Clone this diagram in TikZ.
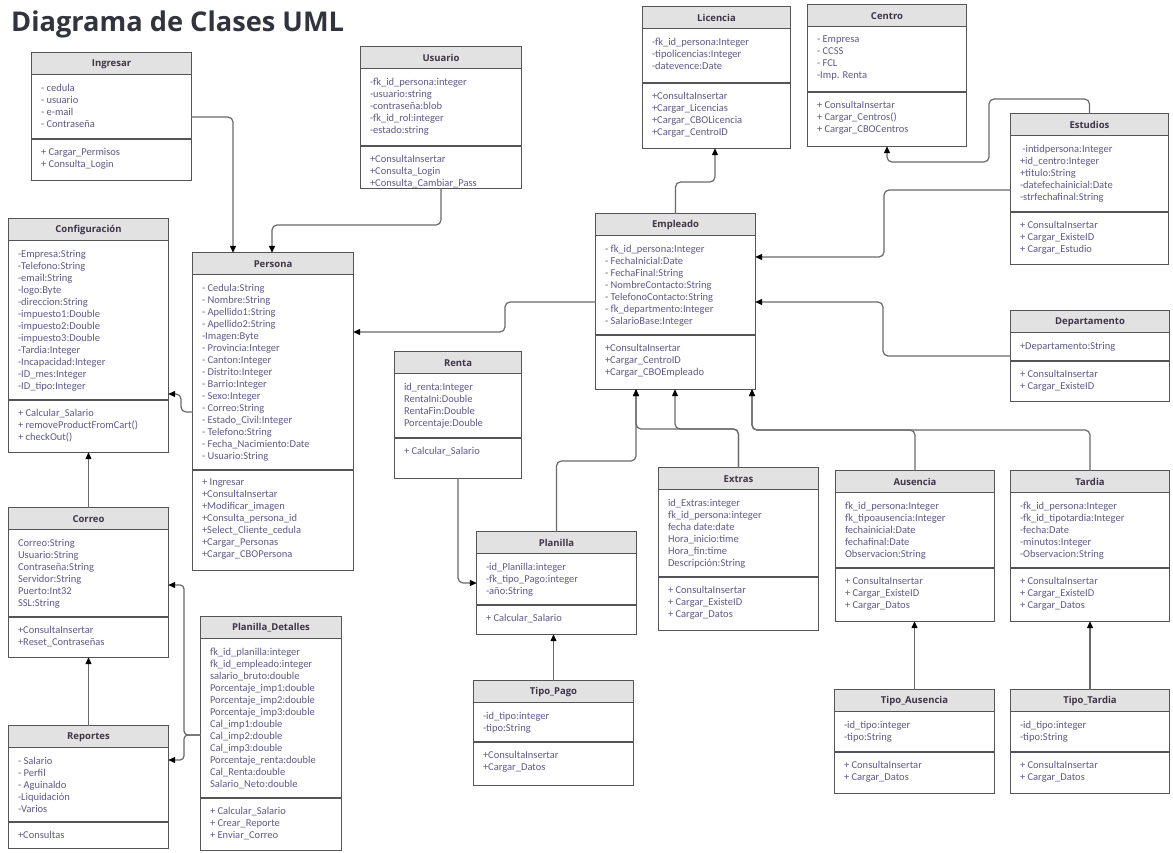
\documentclass[tikz,border=0pt]{standalone}
\usepackage{fontspec}
\setmainfont{Carlito}
\newfontfamily\headfont{Open Sans}
\usetikzlibrary{arrows.meta,fit,calc}
\definecolor{headgray}{RGB}{226,226,226}
\definecolor{boxgray}{RGB}{85,85,85}
\definecolor{linkgray}{RGB}{105,105,105}
\definecolor{membertext}{RGB}{95,90,135}
\definecolor{headtext}{RGB}{62,52,72}
\definecolor{titletext}{RGB}{48,52,60}

\newcommand{\umlclass}[7]{%
  \node[classbody, fit={(#2) (#3)}] (#1) {};
  \fill[headgray] (#1.north west) rectangle ([yshift=-22pt]#1.north east);
  \coordinate (#1-div) at (#1.west |- 0,#4);
  \draw[sepline] ([yshift=-22pt]#1.north west) -- ([yshift=-22pt]#1.north east);
  \draw[sepline] (#1-div) -- (#1.east |- #1-div);
  \draw[sepline] (#1.north west) rectangle (#1.south east);
  \node[classname] (#1-name) at ([yshift=-11pt]#1.north) {#5};
  \node[members] (#1-attrs) at ([xshift=9pt,yshift=-31pt]#1.north west) {#6};
  \node[members] (#1-ops) at ([xshift=9pt,yshift=-9pt]#1-div) {#7};
}

\begin{document}
\begin{tikzpicture}[
    x=1pt, y=-1pt,
    classbody/.style={fill=white, inner sep=0pt},
    sepline/.style={draw=boxgray, line width=1.1pt},
    classname/.style={font=\headfont\bfseries\fontsize{9.5}{11}\selectfont, text=headtext, inner sep=0pt},
    members/.style={anchor=north west, align=left, inner sep=0pt, font=\fontsize{10.5}{12}\selectfont, text=membertext},
    link/.style={draw=linkgray, line width=1.2pt, rounded corners=5pt, -{Triangle[length=7pt,width=6pt,color=black]}}
]
    \fill[white] (0,0) rectangle (1173,852);
    \useasboundingbox (0,0) rectangle (1173,852);

    \node[anchor=base west, inner sep=0pt, text=titletext, font={\headfont\bfseries\fontsize{27.2}{32}\selectfont}] (title) at (11,31) {Diagrama de Clases UML};

    \umlclass{ingresar}{32,53}{191,180}{139}{Ingresar}
        {- cedula\\- usuario\\- e-mail\\- Contraseña}
        {+ Cargar\_Permisos\\+ Consulta\_Login}
    \umlclass{usuario}{361,47}{521,188}{146}{Usuario}
        {-fk\_id\_persona:integer\\-usuario:string\\-contraseña:blob\\-fk\_id\_rol:integer\\-estado:string}
        {+ConsultaInsertar\\+Consulta\_Login\\+Consulta\_Cambiar\_Pass}
    \umlclass{configuracion}{9,219}{168,452}{400}{Configuración}
        {-Empresa:String\\-Telefono:String\\-email:String\\-logo:Byte\\-direccion:String\\-impuesto1:Double\\-impuesto2:Double\\-impuesto3:Double\\-Tardia:Integer\\-Incapacidad:Integer\\-ID\_mes:Integer\\-ID\_tipo:Integer}
        {+ Calcular\_Salario\\+ removeProductFromCart()\\+ checkOut()}
    \umlclass{persona}{193,253}{353,570}{470}{Persona}
        {- Cedula:String\\- Nombre:String\\- Apellido1:String\\- Apellido2:String\\-Imagen:Byte\\- Provincia:Integer\\- Canton:Integer\\- Distrito:Integer\\- Barrio:Integer\\- Sexo:Integer\\- Correo:String\\- Estado\_Civil:Integer\\- Telefono:String\\- Fecha\_Nacimiento:Date\\- Usuario:String}
        {+ Ingresar\\+ConsultaInsertar\\+Modificar\_imagen\\+Consulta\_persona\_id\\+Select\_Cliente\_cedula\\+Cargar\_Personas\\+Cargar\_CBOPersona}
    \umlclass{correo}{9,508}{168,657}{617}{Correo}
        {Correo:String\\Usuario:String\\Contraseña:String\\Servidor:String\\Puerto:Int32\\SSL:String}
        {+ConsultaInsertar\\+Reset\_Contraseñas}
    \umlclass{reportes}{9,726}{168,848}{822}{Reportes}
        {- Salario\\- Perfil\\- Aguinaldo\\-Liquidación\\-Varios}
        {+Consultas}
    \umlclass{pdetalles}{201,617}{341,850}{798}{Planilla\_Detalles}
        {fk\_id\_planilla:integer\\fk\_id\_empleado:integer\\salario\_bruto:double\\Porcentaje\_imp1:double\\Porcentaje\_imp2:double\\Porcentaje\_imp3:double\\Cal\_imp1:double\\Cal\_imp2:double\\Cal\_imp3:double\\Porcentaje\_renta:double\\Cal\_Renta:double\\Salario\_Neto:double}
        {+ Calcular\_Salario\\+ Crear\_Reporte\\+ Enviar\_Correo}
    \umlclass{renta}{395,352}{521,478}{438}{Renta}
        {id\_renta:Integer\\RentaIni:Double\\RentaFin:Double\\Porcentaje:Double}
        {+ Calcular\_Salario}
    \umlclass{planilla}{477,532}{636,634}{605}{Planilla}
        {-id\_Planilla:integer\\-fk\_tipo\_Pago:integer\\-año:String}
        {+ Calcular\_Salario}
    \umlclass{tipopago}{474,681}{633,785}{742}{Tipo\_Pago}
        {-id\_tipo:integer\\-tipo:String}
        {+ConsultaInsertar\\+Cargar\_Datos}
    \umlclass{licencia}{643,7}{790,148}{83}{Licencia}
        {-fk\_id\_persona:Integer\\-tipolicencias:Integer\\-datevence:Date}
        {+ConsultaInsertar\\+Cargar\_Licencias\\+Cargar\_CBOLicencia\\+Cargar\_CentroID}
    \umlclass{centro}{808,5}{966,146}{92}{Centro}
        {- Empresa\\- CCSS\\- FCL\\-Imp. Renta}
        {+ ConsultaInsertar\\+ Cargar\_Centros()\\+ Cargar\_CBOCentros}
    \umlclass{empleado}{596,214}{755,389}{335}{Empleado}
        {- fk\_id\_persona:Integer\\- FechaInicial:Date\\- FechaFinal:String\\- NombreContacto:String\\- TelefonoContacto:String\\- fk\_departmento:Integer\\- SalarioBase:Integer}
        {+ConsultaInsertar\\+Cargar\_CentroID\\+Cargar\_CBOEmpleado}
    \umlclass{estudios}{1011,114}{1168,264}{212}{Estudios}
        {\ -intidpersona:Integer\\+id\_centro:Integer\\+titulo:String\\-datefechainicial:Date\\-strfechafinal:String}
        {+ ConsultaInsertar\\+ Cargar\_ExisteID\\+ Cargar\_Estudio}
    \umlclass{departamento}{1011,311}{1169,401}{361}{Departamento}
        {+Departamento:String}
        {+ ConsultaInsertar\\+ Cargar\_ExisteID}
    \umlclass{extras}{659,468}{818,630}{577}{Extras}
        {id\_Extras:integer\\fk\_id\_persona:integer\\fecha date:date\\Hora\_inicio:time\\Hora\_fin:time\\Descripción:String}
        {+ ConsultaInsertar\\+ Cargar\_ExisteID\\+ Cargar\_Datos}
    \umlclass{ausencia}{836,471}{994,621}{568}{Ausencia}
        {fk\_id\_persona:Integer\\fk\_tipoausencia:Integer\\fechainicial:Date\\fechafinal:Date\\Observacion:String}
        {+ ConsultaInsertar\\+ Cargar\_ExisteID\\+ Cargar\_Datos}
    \umlclass{tardia}{1011,471}{1169,621}{568}{Tardia}
        {-fk\_id\_persona:Integer\\-fk\_id\_tipotardia:Integer\\-fecha:Date\\-minutos:Integer\\-Observacion:String}
        {+ ConsultaInsertar\\+ Cargar\_ExisteID\\+ Cargar\_Datos}
    \umlclass{tipoausencia}{835,690}{994,793}{752}{Tipo\_Ausencia}
        {-id\_tipo:integer\\-tipo:String}
        {+ ConsultaInsertar\\+ Cargar\_Datos}
    \umlclass{tipotardia}{1011,690}{1169,793}{752}{Tipo\_Tardia}
        {-id\_tipo:integer\\-tipo:String}
        {+ ConsultaInsertar\\+ Cargar\_Datos}

    \draw[link] (ingresar.east |- 0,117) -| (persona.north -| 233,0);
    \draw[link] (usuario.south) |- (272,225) -- (persona.north -| 272,0);
    \draw[link] (persona.west |- 0,412) -- (181,412) -- (181,394) -- (configuracion.east |- 0,394);
    \draw[link] (correo.north) -- (configuracion.south);
    \draw[link] (reportes.north) -- (correo.south);
    \draw[link, rounded corners=4pt] (pdetalles.west |- 0,735) -- (184,735) -- (184,585) -- (correo.east |- 0,585);
    \draw[link, rounded corners=4pt] (pdetalles.west |- 0,735) -- (184,735) -- (184,760) -- (reportes.east |- 0,760);
    \draw[link] (empleado.west |- 0,302) -- (505,302) -- (505,332) -- (persona.east |- 0,332);
    \draw[link] (empleado.north) |- (715,182) -- (licencia.south -| 715,0);
    \draw[link] (estudios.north) |- (989,99) |- (centro.south |- 0,162) -- (centro.south);
    \draw[link] (estudios.west |- 0,190) -- (884,190) -- (884,257) -- (empleado.east |- 0,257);
    \draw[link] (departamento.west |- 0,356) -- (883,356) -- (883,302) -- (empleado.east |- 0,302);
    \draw[link] (renta.south) |- (planilla.west |- 0,583);
    \draw[link] (planilla.north) |- (636,461) -- (empleado.south -| 636,0);
    \draw[link] (extras.north) |- (636,429) -- (empleado.south -| 636,0);
    \draw[link] (extras.north) |- (675,429) -- (empleado.south -| 675,0);
    \draw[link] (ausencia.north) |- (752,430) -- (empleado.south -| 752,0);
    \draw[link] (tardia.north) |- (752,430) -- (empleado.south -| 752,0);
    \draw[link] (tipopago.north) -- (tipopago.north |- planilla.south);
    \draw[link] (tipoausencia.north) -- (tipoausencia.north |- ausencia.south);
    \draw[link] (tipotardia.north) -- (tipotardia.north |- tardia.south);
\end{tikzpicture}
\end{document}
